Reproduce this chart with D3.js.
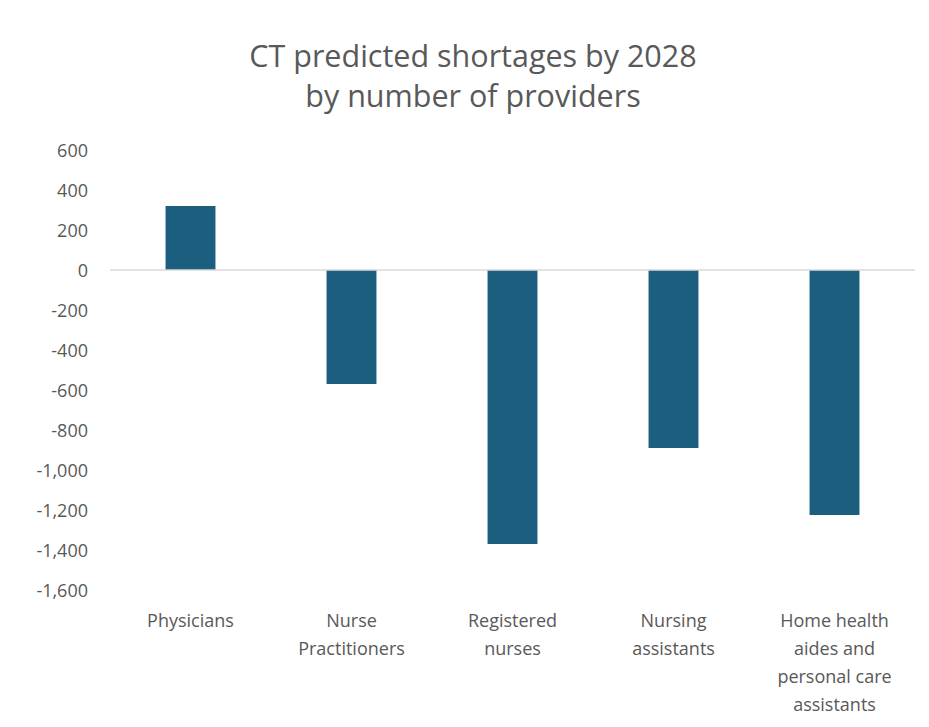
<!DOCTYPE html>
<html>
<head>
<meta charset="utf-8">
<script src="https://cdn.jsdelivr.net/npm/d3@7"></script>
<style>
  html, body { margin: 0; padding: 0; background: #fff; }
  svg text { font-family: "Open Sans", "Liberation Sans", sans-serif; fill: #595959; }
</style>
</head>
<body>
<svg id="chart" width="929" height="727"></svg>
<script>
const categories = [
  ["Physicians"],
  ["Nurse", "Practitioners"],
  ["Registered", "nurses"],
  ["Nursing", "assistants"],
  ["Home health", "aides and", "personal care", "assistants"]
];
const values = [320, -570, -1370, -890, -1225];
const yTicks = [600, 400, 200, 0, -200, -400, -600, -800, -1000, -1200, -1400, -1600];
const titleLines = ["CT predicted shortages by 2028", "by number of providers"];

const svg = d3.select("#chart");
const margin = { left: 110, right: 14, top: 150, bottom: 137 };
const W = 929, H = 727;

const x = d3.scaleBand()
  .domain(d3.range(categories.length))
  .range([margin.left, W - margin.right])
  .paddingInner(0.69)
  .paddingOuter(0.345);

const y = d3.scaleLinear()
  .domain([-1600, 600])
  .range([H - margin.bottom, margin.top]);

// title
svg.append("g").selectAll("text")
  .data(titleLines)
  .join("text")
  .attr("x", 473)
  .attr("y", (d, i) => 67 + i * 40)
  .attr("text-anchor", "middle")
  .attr("font-size", 30.5)
  .text(d => d);

// y axis labels
const fmt = d3.formatLocale({ decimal: ".", thousands: ",", grouping: [3], currency: ["$", ""], minus: "-" }).format(",");
const yAxis = d3.axisLeft(y).tickValues(yTicks).tickSize(0).tickPadding(0)
  .tickFormat(fmt);
const gy = svg.append("g").attr("transform", "translate(88,0)").call(yAxis);
gy.select(".domain").remove();
gy.selectAll("text")
  .attr("font-size", 18)
  .style("font-family", "'Open Sans', 'Liberation Sans', sans-serif")
  .attr("fill", "#595959")
  .attr("dy", "0.35em");

// bars
svg.append("g").selectAll("rect")
  .data(values)
  .join("rect")
  .attr("x", (d, i) => x(i))
  .attr("width", x.bandwidth())
  .attr("y", d => y(Math.max(0, d)))
  .attr("height", d => Math.abs(y(d) - y(0)))
  .attr("fill", "#1b5e7e");

// zero line
svg.append("line")
  .attr("x1", margin.left).attr("x2", W - margin.right)
  .attr("y1", y(0)).attr("y2", y(0))
  .attr("stroke", "#d9d9d9").attr("stroke-width", 1.5);

// category labels
const gx = svg.append("g");
categories.forEach((lines, i) => {
  const t = gx.append("text")
    .attr("text-anchor", "middle")
    .attr("font-size", 18)
    .attr("transform", `translate(${x(i) + x.bandwidth() / 2},0)`);
  t.selectAll("tspan").data(lines).join("tspan")
    .attr("x", 0)
    .attr("y", (d, j) => 627 + j * 28)
    .text(d => d);
});
</script>
</body>
</html>
